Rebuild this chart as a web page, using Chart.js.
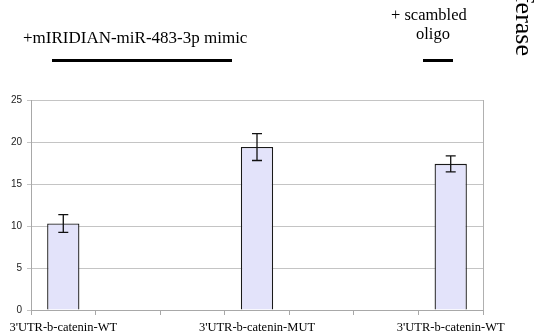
<!DOCTYPE html>
<html>
<head>
<meta charset="utf-8">
<script src="https://cdn.jsdelivr.net/npm/chart.js@4.4.0/dist/chart.umd.min.js"></script>
<style>
  html, body { margin: 0; padding: 0; background: #fff; overflow: hidden; }
  #wrap { position: relative; width: 536px; height: 336px; overflow: hidden; }
  #chart { position: absolute; left: 0; top: 0; }
  .note { position: absolute; font-family: "Liberation Serif", serif; color: #000; white-space: nowrap; }
  .bar { position: absolute; background: #000; }
</style>
</head>
<body>
<div id="wrap">
  <canvas id="chart" width="536" height="336"></canvas>
  <div class="note" style="left:23px; top:29px; font-size:17px; line-height:17px;">+mIRIDIAN-miR-483-3p mimic</div>
  <div class="bar" style="left:52px; top:59px; width:180px; height:2.5px;"></div>
  <div class="note" style="left:391px; top:7px; font-size:16.5px; line-height:16.5px;">+ scambled</div>
  <div class="note" style="left:383px; top:26px; width:100px; text-align:center; font-size:16.5px; line-height:16.5px;">oligo</div>
  <div class="bar" style="left:423px; top:59px; width:30px; height:2.5px;"></div>
  <div class="note" style="left:537px; top:-144px; width:200px; text-align:right; font-size:26px; line-height:26px; transform-origin:left top; transform:rotate(90deg);">Luciferase</div>
</div>
<script>
// categories: 7 slots, only 1st, 4th and 7th carry a bar
const categories = ["3'UTR-b-catenin-WT", "", "", "3'UTR-b-catenin-MUT", "", "", "3'UTR-b-catenin-WT"];
const values = [10.3, null, null, 19.4, null, null, 17.4];
const errors = [1.05, null, null, 1.6, null, null, 0.95];
const yTicks = [0, 5, 10, 15, 20, 25];

const errorBars = {
    id: 'errorBars',
    afterDatasetsDraw(chart) {
        const ctx = chart.ctx;
        const yScale = chart.scales.y;
        const meta = chart.getDatasetMeta(0);
        const area = chart.chartArea;

        // right border of the plot
        ctx.save();
        ctx.strokeStyle = '#b0b0b0';
        ctx.lineWidth = 1;
        ctx.beginPath();
        ctx.moveTo(Math.round(area.right) + 0.5, area.top);
        ctx.lineTo(Math.round(area.right) + 0.5, area.bottom);
        ctx.stroke();

        ctx.strokeStyle = '#111';
        ctx.lineWidth = 1.3;
        meta.data.forEach(function (bar, i) {
            if (values[i] == null) return;
            const x = bar.x;
            const hi = yScale.getPixelForValue(values[i] + errors[i]);
            const lo = yScale.getPixelForValue(values[i] - errors[i]);
            ctx.beginPath();
            ctx.moveTo(x, hi);
            ctx.lineTo(x, lo);
            ctx.moveTo(x - 5, hi);
            ctx.lineTo(x + 5, hi);
            ctx.moveTo(x - 5, lo);
            ctx.lineTo(x + 5, lo);
            ctx.stroke();
        });
        ctx.restore();
    }
};

new Chart(document.getElementById('chart'), {
    type: 'bar',
    data: {
        labels: categories,
        datasets: [{
            data: values,
            backgroundColor: '#e3e3fa',
            borderColor: '#1a1a1a',
            borderWidth: 1.3,
            categoryPercentage: 1,
            barPercentage: 0.5,
        }]
    },
    options: {
        responsive: false,
        animation: false,
        layout: { padding: { top: 100, right: 53, left: 0, bottom: 0 } },
        plugins: {
            legend: { display: false },
            tooltip: { enabled: false },
        },
        scales: {
            x: {
                grid: { offset: true, drawOnChartArea: false, tickLength: 5, color: '#a8a8a8' },
                border: { color: '#a8a8a8' },
                ticks: {
                    autoSkip: false,
                    maxRotation: 0,
                    padding: 5,
                    color: '#000',
                    font: { family: 'Liberation Serif', size: 12.5 }
                },
                afterFit(scale) { scale.height = 26; }
            },
            y: {
                min: 0,
                max: 25,
                afterBuildTicks(scale) { scale.ticks = yTicks.map(v => ({ value: v })); },
                grid: { color: '#c4c4c4', tickLength: 4 },
                border: { color: '#a8a8a8' },
                ticks: {
                    padding: 5,
                    color: '#222',
                    font: { family: 'Liberation Sans', size: 10 }
                },
                afterFit(scale) { scale.width = 31; }
            }
        }
    },
    plugins: [errorBars]
});
</script>
</body>
</html>
